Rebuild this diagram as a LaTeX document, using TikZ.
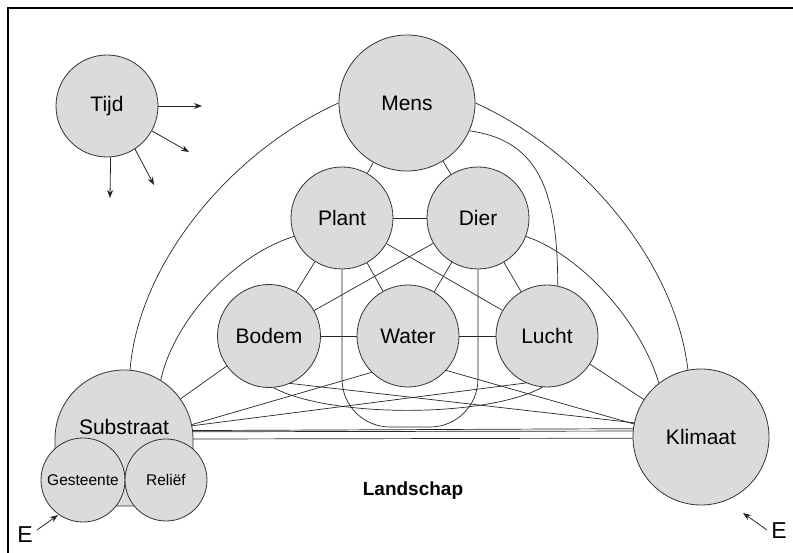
\documentclass[tikz,border=0pt]{standalone}
\usepackage{fontspec}
\setmainfont{Liberation Sans}
\usetikzlibrary{arrows.meta}
\pgfdeclarelayer{bg}
\pgfsetlayers{bg,main}
\begin{document}
\begin{tikzpicture}[x=1pt,y=-1pt,
  blob/.style={circle, draw=black!80, line width=0.8pt, fill=black!14, inner sep=0pt, font=\fontsize{21}{24}\selectfont},
  small/.style={font=\fontsize{15.5}{18}\selectfont},
  link/.style={draw=black!85, line width=0.7pt},
  arr/.style={draw=black!85, line width=0.8pt, -{Stealth[length=8pt,width=6pt]}},
]
\useasboundingbox (0,0) rectangle (793,553);
\draw[line width=2.5pt] (8,553) -- (8,8) -- (793,8);

% circles
\node[blob, minimum size=102pt] (Tijd) at (107,106) {Tijd};
\node[blob, minimum size=136pt] (Mens) at (407,103) {Mens};
\node[blob, minimum size=102pt] (Plant) at (342,218) {Plant};
\node[blob, minimum size=102pt] (Dier) at (478,218) {Dier};
\node[blob, minimum size=103pt] (Bodem) at (269,336) {Bodem};
\node[blob, minimum size=102pt] (Water) at (408,336) {Water};
\node[blob, minimum size=102pt] (Lucht) at (547,336) {Lucht};
\node[blob, minimum size=136pt] (Klimaat) at (701,437) {Klimaat};

% Substraat dome
\path[draw=black!80, line width=0.8pt, fill=black!14] (55,439) arc[start angle=180, end angle=360, radius=69] -- (193,506) -- (55,506) -- cycle;
\node[circle, inner sep=0pt, minimum size=138pt] (Substraat) at (124,439) {};
\node[font=\fontsize{21}{24}\selectfont] (SubstraatText) at (124,427) {Substraat};
\node[blob, small, minimum size=84pt] (Gesteente) at (83,480) {Gesteente};
\node[blob, small, minimum size=82pt] (Relief) at (166,480) {Reliëf};

% labels
\node[font=\bfseries\fontsize{19}{22}\selectfont] (Landschap) at (413,491) {Landschap};
\node[font=\fontsize{23}{24}\selectfont] (E1) at (25,535) {E};
\node[font=\fontsize{23}{24}\selectfont] (E2) at (779,531) {E};

% free ends
\coordinate (T1) at (202,106);
\coordinate (T2) at (189,152);
\coordinate (T3) at (154,185);
\coordinate (T4) at (110,198);
\coordinate (E1tail) at (37,530);
\coordinate (E1tip) at (58,515);
\coordinate (E2tail) at (767,530);
\coordinate (E2tip) at (743,513);
\coordinate (Ubot) at (410,427);

\draw[arr] (Tijd.0) -- (T1);
\draw[arr] (Tijd.-29.5) -- (T2);
\draw[arr] (Tijd.-57.5) -- (T3);
\draw[arr] (Tijd.-86.6) -- (T4);
\draw[arr] (E1tail) -- (E1tip);
\draw[arr] (E2tail) -- (E2tip);

\begin{pgfonlayer}{bg}
\draw[link] (Mens) -- (Plant);
\draw[link] (Mens) -- (Dier);
\draw[link] (Plant) -- (Dier);
\draw[link] (Bodem) -- (Water);
\draw[link] (Water) -- (Lucht);
\draw[link] (Plant) -- (Bodem);
\draw[link] (Plant) -- (Water);
\draw[link] (Plant) -- (Lucht);
\draw[link] (Dier) -- (Bodem);
\draw[link] (Dier) -- (Water);
\draw[link] (Dier) -- (Lucht);
\draw[link] (Bodem) -- (Substraat);
\draw[link] (Lucht) -- (Klimaat);
\draw[link] (Substraat.12.5) -- (Water.225.8);
\draw[link] (Substraat.11) -- (Lucht.246.5);
\draw[link] (Bodem.294) -- (Klimaat.168);
\draw[link] (Water.-42.7) -- (Klimaat.169.5);
\draw[link] (Substraat.7.66) -- (Klimaat.173.9);
\draw[link] (Substraat.6) -- (Klimaat.175.6);
\draw[link] (Substraat.0.4) -- (Klimaat.181.3);
\draw[link] (Mens.180) .. controls (234,150) and (139,260) .. (Substraat.85);
\draw[link] (Mens.0) .. controls (580,150) and (675,260) .. (Klimaat.101);
\draw[link] (Mens.-24) .. controls (535,140) and (558,185) .. (Lucht.78);
\draw[link] (Dier.-21.6) .. controls (580,255) and (640,320) .. (Klimaat.128.5);
\draw[link] (Plant.201.2) .. controls (234,255) and (174,320) .. (Substraat.58.2);
\draw[link] (Bodem.275) .. controls (330,418) and (486,418) .. (Lucht.265);
\draw[link, rounded corners=48pt] (Plant.south) -- (Plant.south |- Ubot) -- (Dier.south |- Ubot) -- (Dier.south);
\end{pgfonlayer}
\end{tikzpicture}
\end{document}
